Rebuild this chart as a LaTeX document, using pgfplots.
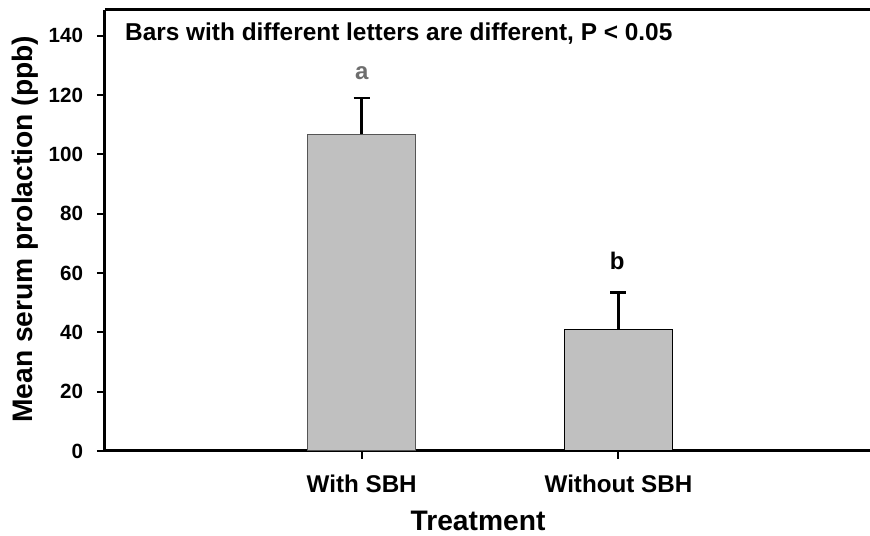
\documentclass[border=0pt]{standalone}
\usepackage{fontspec}
\setmainfont{Liberation Sans}
\usepackage{pgfplots}
\pgfplotsset{compat=1.18}
\usetikzlibrary{calc}
\definecolor{barfill}{HTML}{C0C0C0}
\definecolor{lettergray}{HTML}{6E6E6E}
\definecolor{edgegray}{HTML}{555555}
\begin{document}
\begin{tikzpicture}
\begin{axis}[
  scale only axis, width=765pt, height=441pt,
  xmin=0, xmax=2.98, ymin=0, ymax=148.7,
  axis x line=bottom, axis y line=left,
  axis line style={-, line width=3pt},
  xtick={1,2}, xticklabels={With SBH, Without SBH},
  ytick={0,20,...,140},
  tick align=outside, major tick length=8pt,
  tick style={line width=2pt, black},
  /pgf/number format/assume math mode=true,
  yticklabel style={font=\bfseries\fontsize{20.6}{24}\selectfont, inner sep=0pt, anchor=east, xshift=-13.7pt},
  xticklabel style={font=\bfseries\fontsize{24.2}{28}\selectfont, inner sep=0pt, anchor=north, yshift=-16pt},
  xlabel={Treatment}, ylabel={Mean serum prolaction (ppb)},
  label style={font=\bfseries\fontsize{28.2}{32}\selectfont, inner sep=0pt},
  xlabel style={at={(axis description cs:0.4876,-0.1807)}, anchor=base},
  ylabel style={at={(axis description cs:-0.0945,0.503)}, anchor=base},
  clip=false,
]
\addplot[ybar, bar width=0.421, bar shift=0pt, fill=barfill, draw=edgegray, line width=1pt,
  error bars/.cd, y dir=plus, y explicit,
  error bar style={line width=3pt, black},
  error mark options={rotate=90, line width=2.5pt, mark size=8pt, black}]
  coordinates {(1,106.8) +- (0,12.3)};
\addplot[ybar, bar width=0.421, bar shift=0pt, fill=barfill, draw=black, line width=1pt,
  error bars/.cd, y dir=plus, y explicit,
  error bar style={line width=3pt, black},
  error mark options={rotate=90, line width=2.5pt, mark size=8pt, black}]
  coordinates {(2,41.0) +- (0,12.5)};
\draw[line width=3pt] (rel axis cs:0,1) -- (rel axis cs:1,1);
\node[anchor=base, font=\bfseries\fontsize{24}{28}\selectfont, text=lettergray, inner sep=0pt] at (axis cs:1,125.1) {a};
\node[anchor=base, font=\bfseries\fontsize{24}{28}\selectfont, inner sep=0pt] at (axis cs:1.995,61.3) {b};
\node[anchor=base west, font=\bfseries\fontsize{24.4}{28}\selectfont, inner sep=0pt] at (axis cs:0.078,138.3) {Bars with different letters are different, P < 0.05};
\coordinate (bl) at (rel axis cs:0,0);
\coordinate (tr) at (rel axis cs:1,1);
\end{axis}
\pgfresetboundingbox
\path ($(bl)+(-105pt,-85pt)$) rectangle ($(tr)+(0pt,10pt)$);
\end{tikzpicture}
\end{document}
